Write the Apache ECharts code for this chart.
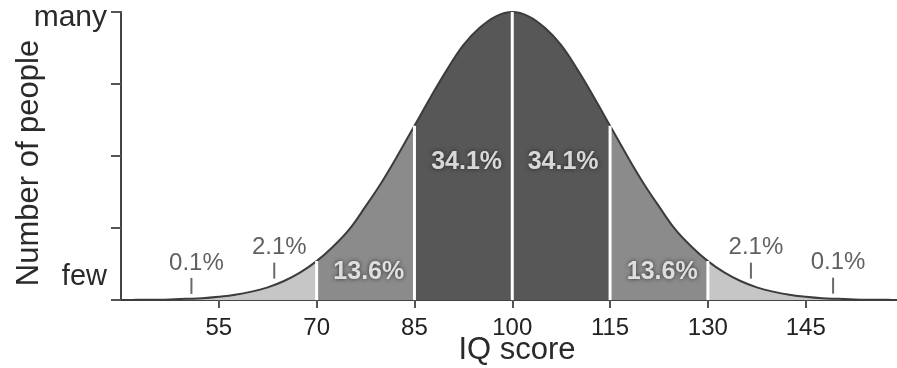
<!DOCTYPE html>
<html>
<head>
<meta charset="utf-8">
<script src="https://cdn.jsdelivr.net/npm/echarts@6/dist/echarts.min.js"></script>
<style>
html,body{margin:0;padding:0;background:#fff;}
#chart{width:897px;height:368px;}
</style>
</head>
<body>
<div id="chart"></div>
<script>
// IQ score sample points and curve height (relative number of people, peak = 100)
var iqScores = [40,42.5,45,47.5,50,52.5,55,57.5,60,62.5,65,67.5,70,72.5,75,77.5,80,82.5,85,87.5,90,92.5,95,97.5,100,
                102.5,105,107.5,110,112.5,115,117.5,120,122.5,125,127.5,130,132.5,135,137.5,140,142.5,145,147.5,150,152.5,155,157.5,160];
var people   = [0,0.05,0.1,0.2,0.4,0.6,1.1,1.8,2.9,4.4,6.6,9.6,13.5,18.5,24.5,32.5,41,50.5,60.5,70.5,80,88.5,94.5,98.5,100,
                98.5,94.5,88.5,80,70.5,60.5,50.5,41,32.5,24.5,18.5,13.5,9.6,6.6,4.4,2.9,1.8,1.1,0.6,0.4,0.2,0.1,0.05,0];
var xTickValues = [55,70,85,100,115,130,145];
var bandEdges = [40,70,85,115,130,160];
var bandColors = ['#c6c6c6','#8b8b8b','#575757','#8b8b8b','#c6c6c6'];
var dividers = [70,85,100,115,130];
// bold percentages inside the curve
var bandLabelX = [78,93,107.8,123];
var bandLabelY = [9.7,48,48,9.7];
var bandLabelText = ['13.6%','34.1%','34.1%','13.6%'];
// small tail notes with tick marks
var noteX = [50.8,63.5,136.6,149.2];
var noteY = [4.9,10.2,10.2,5];
var noteText = ['0.1%','2.1%','2.1%','0.1%'];

function heightAt(x){ var i = iqScores.indexOf(x); return people[i]; }
function pairs(lo, hi){
  var out = [];
  for (var i=0;i<iqScores.length;i++){ if (iqScores[i]>=lo && iqScores[i]<=hi) out.push([iqScores[i], people[i]]); }
  return out;
}
var FONT = 'Liberation Sans, Arial, sans-serif';

var series = [];
for (var b=0;b<bandColors.length;b++){
  series.push({
    type:'line', data: pairs(bandEdges[b], bandEdges[b+1]), smooth:0.4,
    symbol:'none', lineStyle:{width:0}, areaStyle:{color:bandColors[b], opacity:1}, z:2, silent:true
  });
}
series.push({
  type:'line', data: pairs(40,160), smooth:0.4, symbol:'none',
  lineStyle:{color:'#3c3c3c', width:2}, z:3, silent:true
});
dividers.forEach(function(d){
  series.push({
    type:'line', data:[[d,0],[d,heightAt(d)]], symbol:'none',
    lineStyle:{color:'#ffffff', width:3}, z:4, silent:true
  });
});
series.push({
  type:'scatter', symbol:'rect', symbolSize:[2,16], itemStyle:{color:'#444'}, z:5,
  data: noteX.map(function(x,i){ return {value:[x,noteY[i]], label:{formatter:noteText[i]}}; }),
  label:{show:true, position:'top', distance:3, offset:[5,0], color:'#383838',
         fontSize:24, fontFamily:FONT}
});
series.push({
  type:'scatter', symbolSize:0, z:6,
  data: bandLabelX.map(function(x,i){ return {value:[x,bandLabelY[i]], label:{formatter:bandLabelText[i]}}; }),
  label:{show:true, position:'inside', color:'#ffffff', fontWeight:'bold', fontSize:25,
         fontFamily:FONT, textShadowColor:'#1a1a1a', textShadowBlur:4}
});

var chart = echarts.init(document.getElementById('chart'));
chart.setOption({
  animation:false,
  backgroundColor:'#ffffff',
  grid:{left:121, right:0, top:12, bottom:68, outerBoundsMode:'none', containLabel:false},
  xAxis:{
    type:'value', min:40, max:159,
    name:'IQ score', nameLocation:'middle', nameGap:35, nameMoveOverlap:false,
    nameTextStyle:{fontSize:31, color:'#2a2a2a', fontFamily:FONT, padding:[0,0,0,16]},
    axisLine:{lineStyle:{color:'#444', width:2}},
    axisTick:{show:true, customValues:xTickValues, length:8, lineStyle:{color:'#555', width:2}},
    axisLabel:{customValues:xTickValues, fontSize:24, color:'#222', margin:16, fontFamily:FONT},
    splitLine:{show:false}
  },
  yAxis:{
    type:'value', min:0, max:100, interval:25,
    name:'Number of people', nameLocation:'middle', nameGap:76, nameRotate:90, nameMoveOverlap:false,
    nameTextStyle:{fontSize:31, color:'#2a2a2a', fontFamily:FONT, padding:[0,14,0,0]},
    axisLine:{show:true, lineStyle:{color:'#444', width:2}},
    axisTick:{show:true, length:10, lineStyle:{color:'#555', width:2}},
    axisLabel:{
      margin:14, fontSize:30, color:'#2a2a2a', fontFamily:FONT,
      formatter:function(v){ if (v===100) return '{many|many}'; if (v===0) return '{few|few}'; return ''; },
      rich:{
        many:{fontSize:30, color:'#2a2a2a', padding:[12,0,0,0], fontFamily:FONT},
        few:{fontSize:29, color:'#2a2a2a', padding:[0,0,46,0], fontFamily:FONT}
      }
    },
    splitLine:{show:false}
  },
  series: series
});
</script>
</body>
</html>
